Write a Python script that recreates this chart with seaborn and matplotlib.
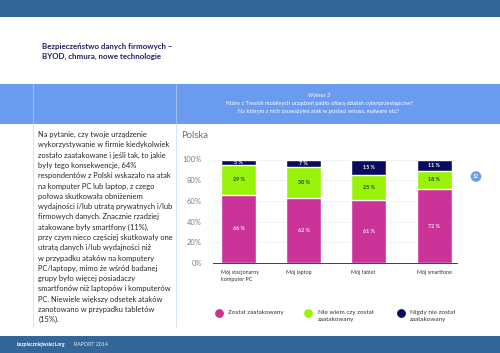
import numpy as np
import pandas as pd
import matplotlib
matplotlib.use("Agg")
import matplotlib.pyplot as plt
import seaborn as sns
from matplotlib.patches import Rectangle, Circle

# ---------------- data ---------------- #
devices = ["Mój stacjonarny\nkomputer PC", "Mój laptop", "Mój tablet", "Mój smartfone"]
attacked = [66, 62, 61, 72]
dont_know = [29, 30, 25, 18]
never = [5, 7, 15, 11]
series_names = ["Został zaatakowany", "Nie wiem czy został\nzaatakowany", "Nigdy nie został\nzaatakowany"]
colors = ["#cc3399", "#99f20a", "#0b0b5e"]
label_colors = ["#fbe3f2", "#2b3a10", "#ffffff"]
y_ticks = [0, 20, 40, 60, 80, 100]

body_lines = [
    "Na pytanie, czy twoje urządzenie",
    "wykorzystywanie w firmie kiedykolwiek",
    "zostało zaatakowane i jeśli tak, to jakie",
    "były tego konsekwencje, 64%",
    "respondentów z Polski wskazało na atak",
    "na komputer PC lub laptop, z czego",
    "połowa skutkowała obniżeniem",
    "wydajności i/lub utratą prywatnych i/lub",
    "firmowych danych. Znacznie rzadziej",
    "atakowane były smartfony (11%),",
    "przy czym nieco częściej skutkowały one",
    "utratą danych i/lub wydajności niż",
    "w przypadku ataków na komputery",
    "PC/laptopy, mimo że wśród badanej",
    "grupy było więcej posiadaczy",
    "smartfonów niż laptopów i komputerów",
    "PC. Niewiele większy odsetek ataków",
    "zanotowano w przypadku tabletów",
    "(15%).",
]

df = pd.DataFrame({"device": devices, "a": attacked, "b": dont_know, "c": never})
tot = df[["a", "b", "c"]].sum(axis=1)
for k in ["a", "b", "c"]:
    df[k + "_n"] = df[k] / tot * 100
df["cum_a"] = df["a_n"]
df["cum_b"] = df["a_n"] + df["b_n"]
df["cum_c"] = df["cum_b"] + df["c_n"]

sns.set_theme(style="white")
plt.rcParams["font.family"] = ["Lato", "DejaVu Sans"]

fig = plt.figure(figsize=(5, 3.53), dpi=100)

# page background in pixel coordinates
bg = fig.add_axes([0, 0, 1, 1])
bg.set_xlim(0, 500)
bg.set_ylim(353, 0)
bg.axis("off")

bg.add_patch(Rectangle((0, 0), 500, 16.5, color="#346799", lw=0))
bg.add_patch(Rectangle((0, 83.5), 500, 40.5, color="#6a9bef", lw=0))
bg.add_patch(Rectangle((0, 336), 500, 17, color="#346799", lw=0))
for xv in [32.5, 175.5]:
    bg.plot([xv, xv], [83.5, 124], color="#a9c4f5", lw=0.6)
    bg.plot([xv, xv], [124, 327], color="#cfe0f2", lw=0.6)

bg.text(42, 46, "Bezpieczeństwo danych firmowych –", fontsize=5.7,
        fontweight="bold", color="#1f1f66", va="center")
bg.text(42, 56, "BYOD, chmura, nowe technologie", fontsize=5.7,
        fontweight="bold", color="#1f1f66", va="center")

bg.text(319, 95, "Wykres 3", fontsize=4.1, style="italic", color="white",
        ha="center", va="center")
bg.text(319, 103.3, "Które z Twoich mobilnych urządzeń padło ofiarą działań cyberprzestępców?",
        fontsize=4.1, color="white", ha="center", va="center")
bg.text(319, 111.7, "Na którym z nich zauważyłeś atak w postaci wirusa, malware etc?",
        fontsize=4.1, color="white", ha="center", va="center")

for i, line in enumerate(body_lines):
    bg.text(38.5, 134.5 + i * 10.3, line, fontsize=5.4, color="#262626", va="center")

bg.text(181, 135, "Polska", fontsize=6.8, color="#6b6b6b", va="center")

bg.add_patch(Circle((476, 176.5), 5.3, color="#6a9bef", lw=0))
bg.text(476, 176.7, "12", fontsize=3.8, color="white", ha="center", va="center",
        fontweight="bold")

bg.text(17, 344.5, "bezpieczniejwsieci.org", fontsize=3.8, color="white",
        fontweight="bold", style="italic", va="center")
bg.text(74.5, 344.5, "RAPORT 2014", fontsize=3.8, color="#dfe8f3", va="center")

# legend (manual, page coords)
leg_x = [218.7, 308.3, 400.7]
shift = matplotlib.transforms.ScaledTranslation(0, 2.6 / 72, fig.dpi_scale_trans)
for xv, name, col in zip(leg_x, series_names, colors):
    bg.scatter([xv], [313.3], s=40, color=col, lw=0)
    bg.text(xv + 9.5, 313.3, name, fontsize=4.6, color="#333333", va="top",
            linespacing=1.5, transform=bg.transData + shift)

# ---------------- chart ---------------- #
ax = fig.add_axes([213 / 500, 1 - 263 / 353, 244 / 500, 103.5 / 353])
ax.set_facecolor("none")
bw = 0.537
for col_key, col in zip(["cum_c", "cum_b", "cum_a"], colors[::-1]):
    sns.barplot(data=df, x="device", y=col_key, color=col, width=bw,
                saturation=1, ax=ax, zorder=2)

for i in range(len(df)):
    bottoms = [0, df["cum_a"][i], df["cum_b"][i]]
    vals = [df["a_n"][i], df["b_n"][i], df["c_n"][i]]
    raw = [df["a"][i], df["b"][i], df["c"][i]]
    for b, v, r, lc in zip(bottoms, vals, raw, label_colors):
        ax.text(i, b + v / 2, f"{r} %", ha="center", va="center", fontsize=3.9,
                fontweight="bold", color=lc, zorder=3)

ax.set_xlim(-0.391, 3.351)
ax.set_ylim(0, 100)
ax.set_yticks(y_ticks)
ax.set_yticklabels([f"{v}%" for v in y_ticks], fontsize=5.4, color="#7f7f7f")
ax.set_xticks(np.arange(len(devices)) - bw / 2)
ax.set_xticklabels(devices, fontsize=3.9, color="#333333", ha="left", va="top",
                   linespacing=1.5)
ax.tick_params(axis="both", length=0)
ax.tick_params(axis="y", pad=8)
ax.tick_params(axis="x", pad=5)
ax.set_xlabel("")
ax.set_ylabel("")
ax.yaxis.grid(True, color="#ececec", lw=0.5, zorder=0)
for s in ["top", "right", "left"]:
    ax.spines[s].set_visible(False)
ax.spines["bottom"].set_color("#222222")
ax.spines["bottom"].set_linewidth(0.6)

fig.savefig("out.png", dpi=100)
